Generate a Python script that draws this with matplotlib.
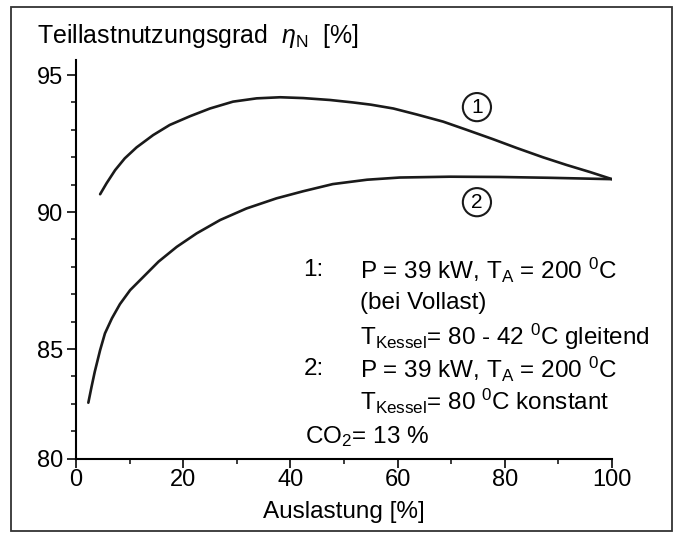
import matplotlib
import matplotlib.pyplot as plt
from matplotlib.patches import Rectangle

matplotlib.use("Agg")

plt.rcParams['font.family'] = ['Liberation Sans', 'DejaVu Sans']
plt.rcParams['mathtext.fontset'] = 'custom'
plt.rcParams['mathtext.rm'] = 'Liberation Sans'
plt.rcParams['mathtext.it'] = 'Liberation Sans:italic'

# curve 1: sliding boiler temperature (80 - 42 C)
x1 = [4.5, 5.7, 7.3, 9.1, 11.3, 14.4, 17.5, 21.3, 25, 29.3, 33.7, 38.1, 42.4, 47.4,
      51.7, 55, 59.2, 63.6, 68.5, 72.9, 77.8, 82.2, 87.1, 91.5, 95.9, 100]
y1 = [90.65, 91.05, 91.53, 91.96, 92.36, 92.81, 93.18, 93.5, 93.78, 94.03, 94.15, 94.19, 94.16, 94.09,
      94.0, 93.92, 93.78, 93.56, 93.3, 93.0, 92.66, 92.34, 92.0, 91.72, 91.46, 91.2]

# curve 2: constant boiler temperature (80 C)
x2 = [2.3, 2.9, 3.5, 4.5, 5.4, 6.7, 8.2, 10.1, 12.6, 15.4, 18.8, 22.5, 26.9, 31.8,
      37.4, 42.4, 47.9, 54.3, 60.4, 69.8, 79.1, 88.4, 100]
y2 = [83.04, 83.62, 84.17, 84.96, 85.57, 86.12, 86.64, 87.15, 87.64, 88.19, 88.73, 89.22, 89.71, 90.13,
      90.5, 90.76, 91.02, 91.18, 91.26, 91.29, 91.28, 91.25, 91.2]

xticks = [0, 20, 40, 60, 80, 100]
yticks = [81, 85, 90, 95]
ytick_labels = ["80", "85", "90", "95"]

fig = plt.figure(figsize=(6.8, 5.42), dpi=100)
ax = fig.add_axes([76 / 680, 1 - 458.6 / 542, 536 / 680, (458.6 - 60) / 542])

ax.plot(x1, y1, color='#1a1a1a', lw=1.9, solid_capstyle='round', solid_joinstyle='round')
ax.plot(x2, y2, color='#1a1a1a', lw=1.9, solid_capstyle='round', solid_joinstyle='round')

ax.set_xlim(0, 100)
ax.set_ylim(81, 95.55)
ax.spines['top'].set_visible(False)
ax.spines['right'].set_visible(False)
ax.spines['left'].set_linewidth(1.5)
ax.spines['bottom'].set_linewidth(1.5)

ax.set_xticks(xticks)
ax.set_xticks(range(10, 100, 20), minor=True)
ax.set_yticks(yticks)
ax.set_yticklabels(ytick_labels)
ax.set_yticks([82, 83, 84, 86, 87, 88, 89, 91, 92, 93, 94], minor=True)
ax.tick_params(axis='both', which='major', labelsize=17, length=6.5, width=1.3, color='#1a1a1a')
ax.tick_params(axis='both', which='minor', length=3.5, width=1.2, color='#1a1a1a')
ax.tick_params(axis='y', which='major', pad=3)
ax.tick_params(axis='x', which='major', pad=1)

# circled curve numbers
circ = dict(boxstyle='circle,pad=0.22', fc='white', ec='#1a1a1a', lw=1.5)
ax.text(74.8, 93.83, "1", fontsize=15, ha='center', va='center', bbox=circ)
ax.text(74.8, 90.36, "2", fontsize=15, ha='center', va='center', bbox=circ)

fs = 17.5
ax.text(42.4, 87.88, "1:", fontsize=fs, va='center')
ax.text(53, 87.88, r"P = 39 kW, T$_{\rm A}$ = 200 $^{\rm 0}$C", fontsize=fs, va='center')
ax.text(53, 86.68, "(bei Vollast)", fontsize=fs, va='center')
ax.text(53, 85.44, r"T$_{\rm Kessel}$= 80 - 42 $^{\rm 0}$C gleitend", fontsize=fs, va='center')
ax.text(42.4, 84.27, "2:", fontsize=fs, va='center')
ax.text(53, 84.27, r"P = 39 kW, T$_{\rm A}$ = 200 $^{\rm 0}$C", fontsize=fs, va='center')
ax.text(53, 83.1, r"T$_{\rm Kessel}$= 80 $^{\rm 0}$C konstant", fontsize=fs, va='center')
ax.text(42.7, 81.8, r"CO$_2$= 13 %", fontsize=fs, va='center')

fig.text(37 / 680, 1 - 43 / 542, r"Teillastnutzungsgrad  $\it{\eta}_{\rm N}$  [%]", fontsize=18, va='baseline')
fig.text(344 / 680, 1 - 512 / 542, "Auslastung [%]", fontsize=17.5, ha='center', va='center')

fig.patches.append(Rectangle((11 / 680, 1 - 531 / 542), 661 / 680, 524 / 542,
                             transform=fig.transFigure, fill=False, ec='#333333', lw=1.3))

fig.savefig("out.png", dpi=100)
